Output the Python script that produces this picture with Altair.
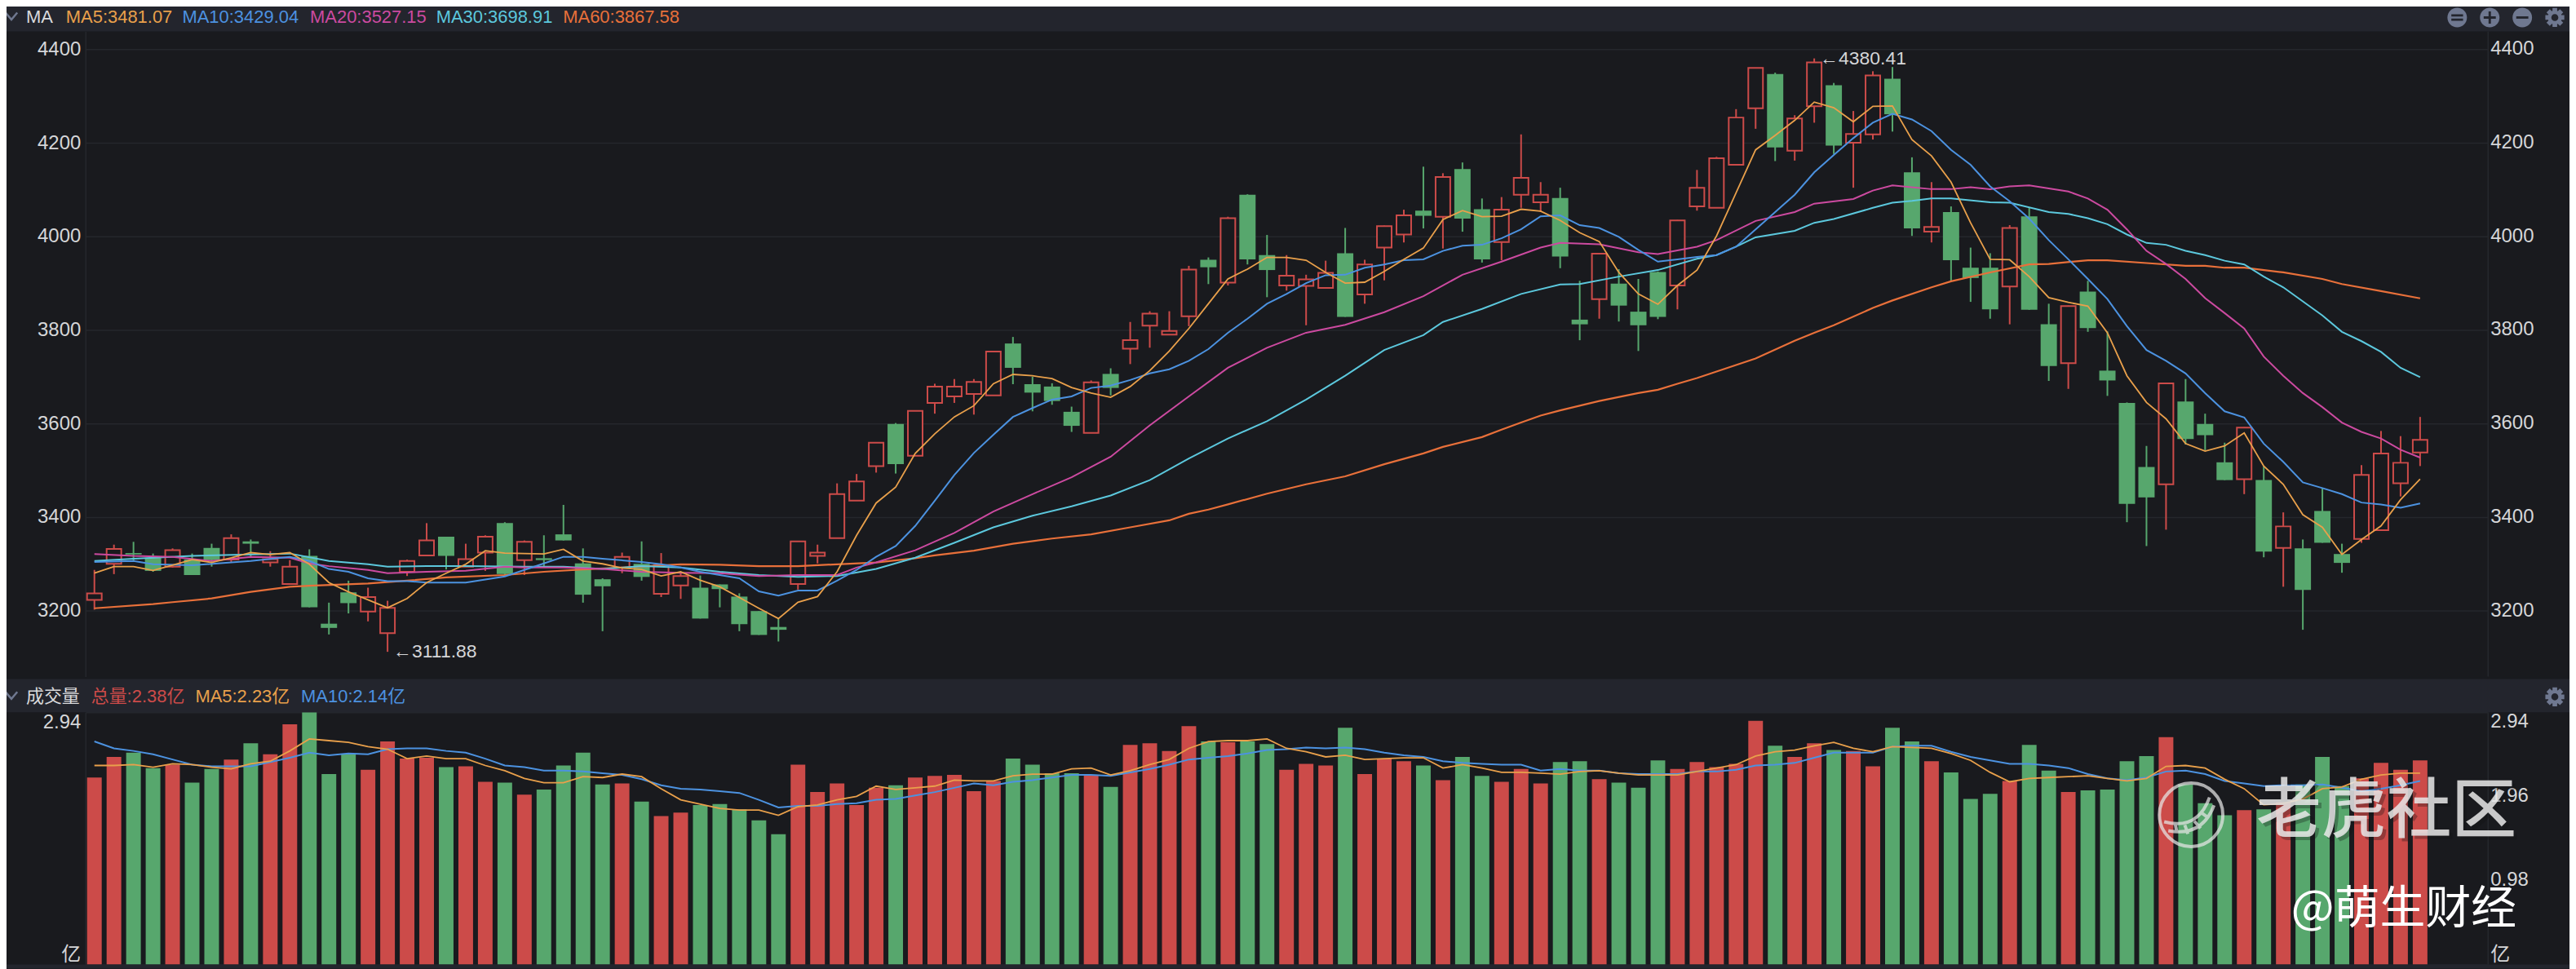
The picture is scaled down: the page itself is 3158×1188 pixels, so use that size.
import math
import altair as alt
import pandas as pd

body_top = [3237,3332,3323,3313,3329,3309,3334,3355,3348,3310,3294,3317,3172,3239,3229,3206,3306,3350,3358,3310,
            3358,3387,3347,3312,3363,3301,3267,3315,3300,3297,3274,3249,3256,3230,3199,3165,3348,3324,3449,3476,
            3559,3599,3627,3679,3679,3689,3754,3771,3684,3679,3625,3688,3706,3778,3835,3798,3929,3950,4039,4089,
            3960,3916,3908,3922,3964,3940,4022,4045,4055,4127,4144,4058,4057,4125,4089,4082,3822,3963,3899,3839,
            3924,4034,4104,4167,4254,4360,4347,4252,4372,4323,4219,4344,4337,4137,4020,4052,3933,3933,4018,4043,
            3812,3851,3882,3713,3644,3507,3686,3647,3599,3517,3591,3479,3380,3333,3413,3321,3490,3536,3516,3565]
body_bot = [3223,3300,3320,3285,3294,3276,3308,3309,3343,3303,3257,3207,3163,3216,3198,3152,3283,3318,3317,3294,
            3324,3278,3308,3308,3350,3234,3252,3292,3272,3236,3254,3183,3246,3171,3148,3159,3257,3317,3355,3435,
            3509,3513,3531,3644,3658,3663,3660,3719,3666,3648,3595,3580,3676,3760,3809,3790,3829,3934,3901,3951,
            3928,3895,3894,3890,3828,3876,3976,4004,4044,4042,4038,3951,3988,4089,4073,3957,3812,3866,3852,3810,
            3828,3895,4064,4061,4153,4274,4190,4183,4278,4194,4200,4218,4261,4017,4010,3949,3911,3844,3893,3843,
            3723,3729,3804,3692,3428,3442,3470,3567,3575,3479,3481,3326,3334,3244,3345,3302,3353,3372,3472,3538]
high = [3287,3341,3347,3322,3333,3322,3343,3363,3352,3327,3308,3331,3217,3264,3249,3221,3309,3387,3358,3343,
        3361,3389,3350,3361,3426,3333,3269,3324,3348,3323,3283,3275,3256,3237,3199,3182,3349,3341,3472,3492,
        3559,3601,3628,3685,3695,3695,3755,3785,3700,3686,3636,3692,3718,3817,3840,3840,3937,3955,4042,4090,
        4003,3960,3918,3948,4018,3950,4023,4057,4149,4135,4158,4081,4084,4218,4116,4104,3905,3964,3930,3909,
        3925,4035,4142,4170,4272,4360,4350,4259,4380.41,4328,4268,4353,4362,4169,4116,4064,3976,3964,4024,4061,
        3856,3852,3905,3797,3645,3552,3687,3695,3621,3559,3592,3509,3410,3352,3462,3343,3511,3584,3573,3614]
low = [3202,3278,3306,3283,3292,3276,3294,3303,3315,3294,3257,3207,3149,3194,3177,3111.88,3274,3318,3288,3294,
       3285,3276,3276,3295,3350,3217,3156,3280,3264,3229,3225,3183,3207,3156,3148,3134,3245,3301,3355,3435,
       3495,3493,3531,3621,3644,3619,3660,3684,3626,3640,3582,3580,3660,3727,3762,3790,3808,3898,3895,3940,
       3870,3884,3810,3890,3828,3856,3906,3987,4017,3974,4010,3944,3949,4061,4052,3932,3778,3824,3818,3755,
       3823,3844,4055,4061,4153,4230,4161,4162,4243,4176,4104,4207,4224,4001,3987,3905,3860,3824,3812,3843,
       3691,3674,3796,3659,3389,3338,3373,3555,3543,3479,3449,3314,3251,3159,3345,3281,3345,3372,3444,3509]
up = [1,1,0,0,1,0,0,1,0,1,1,0,0,0,1,1,1,1,0,1,
      1,0,1,0,0,0,0,1,0,1,1,0,0,0,0,0,1,1,1,1,
      1,0,1,1,1,1,1,0,0,0,0,1,0,1,1,1,1,0,1,0,
      0,1,1,1,0,1,1,1,0,1,0,0,1,1,1,0,0,1,0,0,
      0,1,1,1,1,1,0,1,1,0,1,1,0,0,1,0,0,0,1,0,
      0,1,0,0,0,0,1,0,0,0,1,0,1,0,0,0,1,1,1,1]
volume = [2.18,2.42,2.47,2.29,2.33,2.12,2.28,2.39,2.58,2.45,2.80,2.94,2.22,2.45,2.27,2.60,2.40,2.41,2.30,2.31,
          2.13,2.12,1.98,2.04,2.32,2.47,2.10,2.11,1.90,1.73,1.77,1.86,1.87,1.81,1.68,1.52,2.33,2.01,2.11,1.86,
          2.06,2.09,2.18,2.20,2.21,2.02,2.14,2.40,2.33,2.23,2.23,2.21,2.07,2.56,2.58,2.49,2.78,2.60,2.59,2.60,
          2.57,2.27,2.34,2.32,2.76,2.22,2.40,2.37,2.32,2.15,2.42,2.20,2.13,2.28,2.11,2.36,2.37,2.16,2.12,2.06,
          2.38,2.28,2.36,2.30,2.34,2.84,2.55,2.42,2.58,2.50,2.49,2.31,2.76,2.60,2.37,2.24,1.93,1.99,2.14,2.56,
          2.26,2.01,2.03,2.04,2.37,2.43,2.65,2.10,1.88,1.74,1.80,1.81,1.89,2.10,2.42,2.08,2.17,2.35,2.27,2.38]

ma5 = [3280,3294,3294,3286,3297,3309,3303,3313,3324,3320,3324,3299,3260,3240,3223,3206,3226,3260,3280,3299,
       3328,3323,3322,3321,3331,3306,3300,3291,3288,3274,3283,3265,3251,3228,3205,3183,3218,3230,3283,3361,
       3430,3464,3536,3578,3614,3638,3685,3705,3702,3696,3677,3665,3656,3679,3713,3755,3803,3856,3909,3930,
       3955,3955,3949,3923,3900,3902,3925,3951,3975,4036,4055,4042,4043,4058,4054,4034,4008,3989,3923,3877,
       3855,3895,3928,4001,4093,4185,4216,4248,4287,4275,4245,4278,4279,4207,4172,4116,4029,3951,3950,3914,
       3869,3859,3851,3794,3702,3645,3610,3557,3541,3552,3580,3509,3470,3405,3378,3320,3352,3381,3437,3481.07]

ma10_i = [0,2,3,5,7,8,10,11,12,13,14,15,16,17,19,21,22,23,24,25,26,28,29,30,31,33,34,35,36,37,38,39,
          40,41,42,43,44,45,46,47,48,49,50,51,52,53,54,55,56,57,58,59,60,61,62,63,64,65,66,67,68,69,70,71,72,73,74,75,
          76,77,78,79,80,81,82,83,84,85,86,87,88,89,90,91,92,93,94,95,96,97,98,99,100,101,102,103,104,105,106,107,108,
          109,110,111,112,113,114,115,116,117,118,119]
ma10 = [3304,3306,3299,3297,3303,3306,3315,3306,3289,3283,3269,3263,3263,3260,3260,3273,3287,3301,3315,3315,3311,3304,3299,3292,3283,3269,3241,3232,3243,3243,3264,3287,
        3315,3338,3381,3435,3490,3537,3576,3614,3633,3651,3658,3676,3681,3693,3707,3716,3734,3759,3794,3824,3856,3877,3900,3917,3918,3933,3940,3949,3951,3969,3980,3982,3996,4015,4043,4045,
        4024,4018,3999,3971,3946,3951,3956,3960,3978,4015,4052,4089,4137,4174,4210,4243,4262,4250,4225,4185,4153,4107,4075,4038,3992,3951,3909,3866,3808,3757,3734,3707,3665,
        3626,3613,3557,3518,3474,3462,3449,3431,3427,3420,3429.04]

ma20_i = [0,2,4,6,8,10,11,12,14,15,17,19,21,22,24,26,28,30,32,34,36,38,39,
          40,42,44,46,48,50,52,54,56,58,60,62,64,66,68,70,72,74,75,77,79,80,82,
          83,85,87,88,90,91,92,94,95,96,97,98,99,101,102,103,104,105,106,107,108,109,110,111,112,113,114,115,116,117,118,119]
ma20 = [3321,3317,3315,3306,3315,3313,3301,3295,3287,3280,3283,3285,3294,3292,3292,3289,3283,3281,3280,3274,3276,3276,3292,
        3303,3329,3366,3412,3449,3485,3529,3596,3658,3719,3762,3794,3811,3838,3872,3918,3946,3976,3986,3983,3966,3962,3978,
        3992,4033,4052,4070,4080,4098,4109,4101,4101,4105,4101,4107,4109,4096,4081,4057,4015,3969,3941,3909,3868,3836,3803,3743,3702,3665,3635,3602,3582,3568,3544,3527.15]

ma30_i = [0,2,5,8,10,12,14,15,17,19,22,24,26,28,30,32,34,36,38,
          40,42,44,46,48,50,52,54,56,58,60,62,64,66,68,69,71,73,75,76,78,80,82,
          83,84,85,87,88,89,91,92,93,94,95,97,98,100,101,102,103,104,105,106,107,108,109,110,111,112,113,114,115,116,117,118,119]
ma30 = [3306,3311,3317,3320,3322,3306,3299,3294,3295,3295,3294,3294,3289,3295,3292,3283,3276,3272,3274,
        3289,3313,3345,3378,3403,3423,3446,3479,3525,3568,3605,3651,3702,3757,3789,3817,3845,3877,3897,3898,3914,3928,3952,
        3960,3978,3998,4012,4029,4037,4061,4072,4076,4081,4081,4073,4072,4052,4048,4039,4026,4004,3986,3982,3969,3960,3948,3940,3914,3891,3861,3831,3796,3776,3753,3719,3698.91]

ma60_i = [0,3,4,6,8,10,11,14,16,18,21,23,25,27,30,32,34,36,38,
          40,42,43,45,47,49,51,53,55,56,57,58,60,62,64,66,68,69,71,72,73,74,75,77,79,80,81,82,
          83,85,87,88,89,91,92,94,95,97,99,100,102,103,105,107,108,109,110,112,114,115,117,119]
ma60 = [3205,3214,3218,3226,3240,3251,3253,3258,3264,3271,3276,3283,3288,3292,3299,3298,3295,3295,3299,
        3303,3312,3318,3328,3343,3354,3363,3378,3393,3407,3416,3427,3450,3470,3487,3513,3536,3550,3571,3587,3602,3617,3628,3648,3665,3672,3685,3697,
        3711,3739,3777,3794,3810,3847,3863,3891,3904,3923,3940,3941,3949,3949,3943,3937,3937,3933,3933,3923,3909,3898,3883,3867.58]

vol_ma5 = [2.32,2.32,2.33,2.30,2.34,2.33,2.30,2.28,2.34,2.37,2.49,2.63,2.61,2.59,2.54,2.51,2.40,2.43,2.40,2.40,
           2.32,2.26,2.17,2.12,2.12,2.19,2.18,2.22,2.19,2.05,1.92,1.87,1.82,1.80,1.80,1.74,1.84,1.86,1.92,1.96,
           2.08,2.04,2.06,2.08,2.15,2.14,2.14,2.20,2.22,2.22,2.28,2.29,2.21,2.26,2.33,2.39,2.52,2.60,2.61,2.61,
           2.63,2.52,2.48,2.42,2.44,2.39,2.40,2.41,2.41,2.29,2.33,2.29,2.24,2.24,2.23,2.22,2.25,2.26,2.23,2.21,
           2.21,2.21,2.25,2.29,2.33,2.43,2.48,2.50,2.55,2.59,2.52,2.48,2.54,2.53,2.52,2.46,2.38,2.24,2.13,2.17,
           2.18,2.19,2.20,2.17,2.14,2.17,2.31,2.32,2.29,2.16,2.05,1.86,1.88,1.93,2.05,2.07,2.16,2.21,2.23,2.23]
vol_ma10 = [2.60,2.52,2.49,2.45,2.39,2.33,2.31,2.31,2.31,2.36,2.41,2.47,2.44,2.46,2.45,2.51,2.52,2.52,2.49,2.47,
            2.40,2.32,2.30,2.26,2.26,2.25,2.23,2.21,2.16,2.09,2.05,2.04,2.02,2.00,1.92,1.83,1.85,1.85,1.87,1.88,
            1.92,1.93,1.97,2.01,2.06,2.11,2.09,2.13,2.15,2.18,2.21,2.21,2.20,2.24,2.28,2.33,2.39,2.41,2.43,2.46,
            2.50,2.51,2.53,2.52,2.53,2.51,2.47,2.44,2.42,2.37,2.35,2.34,2.33,2.33,2.26,2.28,2.26,2.26,2.23,2.22,
            2.22,2.22,2.25,2.25,2.27,2.32,2.33,2.35,2.41,2.47,2.47,2.47,2.54,2.55,2.55,2.48,2.42,2.38,2.34,2.34,
            2.32,2.29,2.22,2.17,2.15,2.18,2.25,2.26,2.22,2.14,2.11,2.08,2.09,2.09,2.10,2.06,2.02,2.05,2.09,2.14]

price_ticks = [3200, 3400, 3600, 3800, 4000, 4200, 4400]
volume_ticks = [0, 0.98, 1.96, 2.94]
price_legend = [("MA", 32, "#d9dadc"), ("MA5:3481.07", 81, "#e9a04b"), ("MA10:3429.04", 224, "#4c92e0"),
                ("MA20:3527.15", 381, "#cc4aa0"), ("MA30:3698.91", 536, "#5cc8dd"), ("MA60:3867.58", 692, "#e8703a")]
volume_legend = [("成交量", 32, "#d9dadc"), ("总量:2.38亿", 112, "#cc4b49"), ("MA5:2.23亿", 240, "#e9a04b"),
                 ("MA10:2.14亿", 370, "#4c92e0")]
extremes = pd.DataFrame({"i": [15, 88], "v": [3111.88, 4380.41], "t": ["←3111.88", "←4380.41"]})

BG = "#191a1e"
HEADER = "#23252d"
GRID = "#25272c"
RED = "#cc4b49"
GREEN = "#57a76d"
TXT = "#d5d6d8"
ICON = "#6f7890"
FONT = "Liberation Sans, Noto Sans CJK SC"
PLOT_W, MAIN_H, VOL_H = 2953, 793, 310
LEFT, TOP_MAIN, TOP_VOL = 105, 37, 873
OVER = 16
BAND_X0, BAND_X1 = 8 - LEFT - OVER, 3158 - LEFT

x_enc = alt.X("i:Q", scale=alt.Scale(domain=[-0.458, 122.48], nice=False, zero=False, padding=0), axis=None)
price_scale = alt.Scale(domain=[3059.1, 4438.3], nice=False, zero=False)
volume_scale = alt.Scale(domain=[0, 2.94], nice=False, zero=False)


def make_axis(ticks, flush=False, expr=None):
    kw = dict(orient="left", values=ticks, title=None, ticks=False, grid=True, gridColor=GRID,
              gridWidth=1.5, domain=True, domainColor=GRID, domainWidth=1.5, labelColor=TXT, labelFont=FONT,
              labelFontSize=24, labelPadding=6, labelFlush=flush, format="d")
    if expr:
        kw["labelExpr"] = expr
    return alt.Axis(**kw)


price_axis = make_axis(price_ticks)
volume_axis = make_axis(volume_ticks, True, "datum.value < 0.1 ? '亿' : format(datum.value, '.2f')")

candles = pd.DataFrame({"i": range(120), "top": body_top, "bot": body_bot, "high": high, "low": low,
                        "up": up, "vol": volume})
red_c = candles[candles.up == 1]
green_c = candles[candles.up == 0]


def one():
    return pd.DataFrame({"a": [0]})


def band(py0, py1, color):
    return alt.Chart(one()).mark_rect(color=color).encode(
        x=alt.value(BAND_X0), x2=alt.value(BAND_X1), y=alt.value(py0), y2=alt.value(py1))


def label(text, real_x, real_y, origin_y, color=TXT, size=22, font=FONT, align="left", opacity=1, weight=400):
    return alt.Chart(pd.DataFrame({"t": [text]})).mark_text(
        align=align, baseline="middle", font=font, fontSize=size, color=color, opacity=opacity, fontWeight=weight
    ).encode(text="t:N", x=alt.value(real_x - LEFT), y=alt.value(real_y - origin_y))


def glyph(shape, real_x, real_y, origin_y, diameter, color, filled=True, stroke_width=0, opacity=1):
    return alt.Chart(one()).mark_point(shape=shape, filled=filled, color=color, opacity=opacity,
                                       size=diameter * diameter, strokeWidth=stroke_width).encode(
        x=alt.value(real_x - LEFT), y=alt.value(real_y - origin_y))


def gear_path():
    pts, n = [], 8
    for k in range(n):
        a = 2 * math.pi * k / n
        w = 0.24
        for r, d in [(0.72, -w - 0.1), (1.0, -w), (1.0, w), (0.72, w + 0.1)]:
            pts.append((r * math.cos(a + d), r * math.sin(a + d)))
    outer = "M" + " L".join(f"{x:.3f} {y:.3f}" for x, y in pts) + " Z"
    hole = " M0.36 0 A0.36 0.36 0 1 0 -0.36 0 A0.36 0.36 0 1 0 0.36 0 Z"
    return outer + hole


CIRCLE = "M1 0 A1 1 0 1 0 -1 0 A1 1 0 1 0 1 0 Z"
EQUALS = "M-0.6 -0.33 H0.6 V-0.1 H-0.6 Z M-0.6 0.1 H0.6 V0.33 H-0.6 Z"
PLUS = "M-0.62 -0.12 H-0.12 V-0.62 H0.12 V-0.12 H0.62 V0.12 H0.12 V0.62 H-0.12 V0.12 H-0.62 Z"
MINUS = "M-0.62 -0.12 H0.62 V0.12 H-0.62 Z"
CHEVRON = "M-0.8 -0.45 L0 0.5 L0.8 -0.45"
GEAR = gear_path()
LOGO = ("M -0.85 0.22 Q 0.2 0.5 0.58 -0.55 M -0.72 0.5 Q 0.35 0.7 0.72 -0.3 M -0.5 0.28 L -0.45 0.55 "
        "M -0.2 0.32 L -0.1 0.6 M 0.1 0.2 L 0.3 0.42 M 0.35 -0.05 L 0.55 0.1")


def right_labels(ticks, texts, scale, axis, baseline):
    d = pd.DataFrame({"v": ticks, "t": texts})
    return alt.Chart(d).mark_text(align="left", baseline=baseline, font=FONT, fontSize=24, color=TXT).encode(
        x=alt.value(3061 - LEFT), y=alt.Y("v:Q", scale=scale, axis=axis), text="t:N")


def right_line(height):
    return alt.Chart(one()).mark_rule(color=GRID, strokeWidth=1.5).encode(
        x=alt.value(PLOT_W), y=alt.value(0), y2=alt.value(height))


def ma_line(indices, values, color, scale, axis, width=2):
    d = pd.DataFrame({"i": indices, "v": values})
    return alt.Chart(d).mark_line(color=color, strokeWidth=width, interpolate="linear").encode(
        x=x_enc, y=alt.Y("v:Q", scale=scale, axis=axis))


py = alt.Y("high:Q", scale=price_scale, axis=price_axis)
ptop = alt.Y("top:Q", scale=price_scale, axis=price_axis)
wicks = lambda df, col: alt.Chart(df).mark_rule(color=col, strokeWidth=2).encode(x=x_enc, y=py, y2="low:Q")
bodies_red = alt.Chart(red_c).mark_bar(size=18, orient="vertical", color=BG, stroke=RED, strokeWidth=2).encode(
    x=x_enc, y=ptop, y2="bot:Q")
bodies_green = alt.Chart(green_c).mark_bar(size=20, orient="vertical", color=GREEN).encode(
    x=x_enc, y=ptop, y2="bot:Q")
notes = alt.Chart(extremes).mark_text(align="left", baseline="middle", dx=7, font=FONT, fontSize=23, color=TXT).encode(
    x=x_enc, y=alt.Y("v:Q", scale=price_scale, axis=price_axis), text="t:N")

main_items = [
    wicks(red_c, RED), wicks(green_c, GREEN), bodies_red, bodies_green,
    right_line(MAIN_H),
    ma_line(ma60_i, ma60, "#e8703a", price_scale, price_axis, 2.2),
    ma_line(ma30_i, ma30, "#5cc8dd", price_scale, price_axis),
    ma_line(ma20_i, ma20, "#cc4aa0", price_scale, price_axis),
    ma_line(ma10_i, ma10, "#4c92e0", price_scale, price_axis),
    ma_line(list(range(120)), ma5, "#e9a04b", price_scale, price_axis, 1.8),
    notes,
    right_labels(price_ticks, [str(t) for t in price_ticks], price_scale, price_axis, "middle"),
    band(8 - TOP_MAIN - OVER, 0, HEADER),
    glyph(CHEVRON, 14, 18, TOP_MAIN, 18, ICON, filled=False, stroke_width=2.5),
    glyph(CIRCLE, 3020, 20, TOP_MAIN, 24, ICON), glyph(EQUALS, 3020, 20, TOP_MAIN, 24, HEADER),
    glyph(CIRCLE, 3060, 20, TOP_MAIN, 24, ICON), glyph(PLUS, 3060, 20, TOP_MAIN, 24, HEADER),
    glyph(CIRCLE, 3100, 20, TOP_MAIN, 24, ICON), glyph(MINUS, 3100, 20, TOP_MAIN, 24, HEADER),
    glyph(GEAR, 3140, 20, TOP_MAIN, 24, ICON),
]
main_items += [label(t, x, 19.5, TOP_MAIN, color=c) for t, x, c in price_legend]
main = alt.layer(*main_items).properties(width=PLOT_W, height=MAIN_H)

vol_y = alt.Y("vol:Q", scale=volume_scale, axis=volume_axis)
vol_red = alt.Chart(red_c).mark_bar(size=18, color=RED).encode(x=x_enc, y=vol_y)
vol_green = alt.Chart(green_c).mark_bar(size=18, color=GREEN).encode(x=x_enc, y=vol_y)

CJK = "Noto Sans CJK SC"
vol_items = [
    vol_red, vol_green,
    right_line(VOL_H),
    ma_line(list(range(120)), vol_ma10, "#4c92e0", volume_scale, volume_axis),
    ma_line(list(range(120)), vol_ma5, "#e9a04b", volume_scale, volume_axis, 1.8),
    right_labels([0.98, 1.96], ["0.98", "1.96"], volume_scale, volume_axis, "middle"),
    right_labels([2.94], ["2.94"], volume_scale, volume_axis, "top"),
    right_labels([0], ["亿"], volume_scale, volume_axis, "bottom"),
    band(830 - TOP_VOL, 832 - TOP_VOL, BG),
    band(832 - TOP_VOL, 0, HEADER),
    band(VOL_H, VOL_H + 5, HEADER),
    glyph(CHEVRON, 14, 852, TOP_VOL, 18, ICON, filled=False, stroke_width=2.5),
    glyph(GEAR, 3140, 854, TOP_VOL, 24, ICON),
    glyph("circle", 2693, 999, TOP_VOL, 78, "#e6e6e6", filled=False, stroke_width=4, opacity=0.72),
    glyph(LOGO, 2693, 999, TOP_VOL, 78, "#e6e6e6", filled=False, stroke_width=4, opacity=0.72),
    label("老虎社区", 2777, 1000, TOP_VOL, color="#101114", size=80, font=CJK, opacity=0.3, weight=500),
    label("老虎社区", 2773, 996, TOP_VOL, color="#e9e9e9", size=80, font=CJK, opacity=0.85, weight=500),
    label("@萌生财经", 2816, 1115, TOP_VOL, color="#ffffff", size=56, font=CJK),
]
vol_items += [label(t, x, 854, TOP_VOL, color=c) for t, x, c in volume_legend]
volume_panel = alt.layer(*vol_items).properties(width=PLOT_W, height=VOL_H)

chart = alt.vconcat(main, volume_panel, spacing=0).properties(
    background=BG, padding={"left": -OVER, "right": 0, "top": -OVER, "bottom": 0}
).configure_view(stroke=None)

chart.save("out.html", embed_options={"renderer": "svg", "actions": False})
